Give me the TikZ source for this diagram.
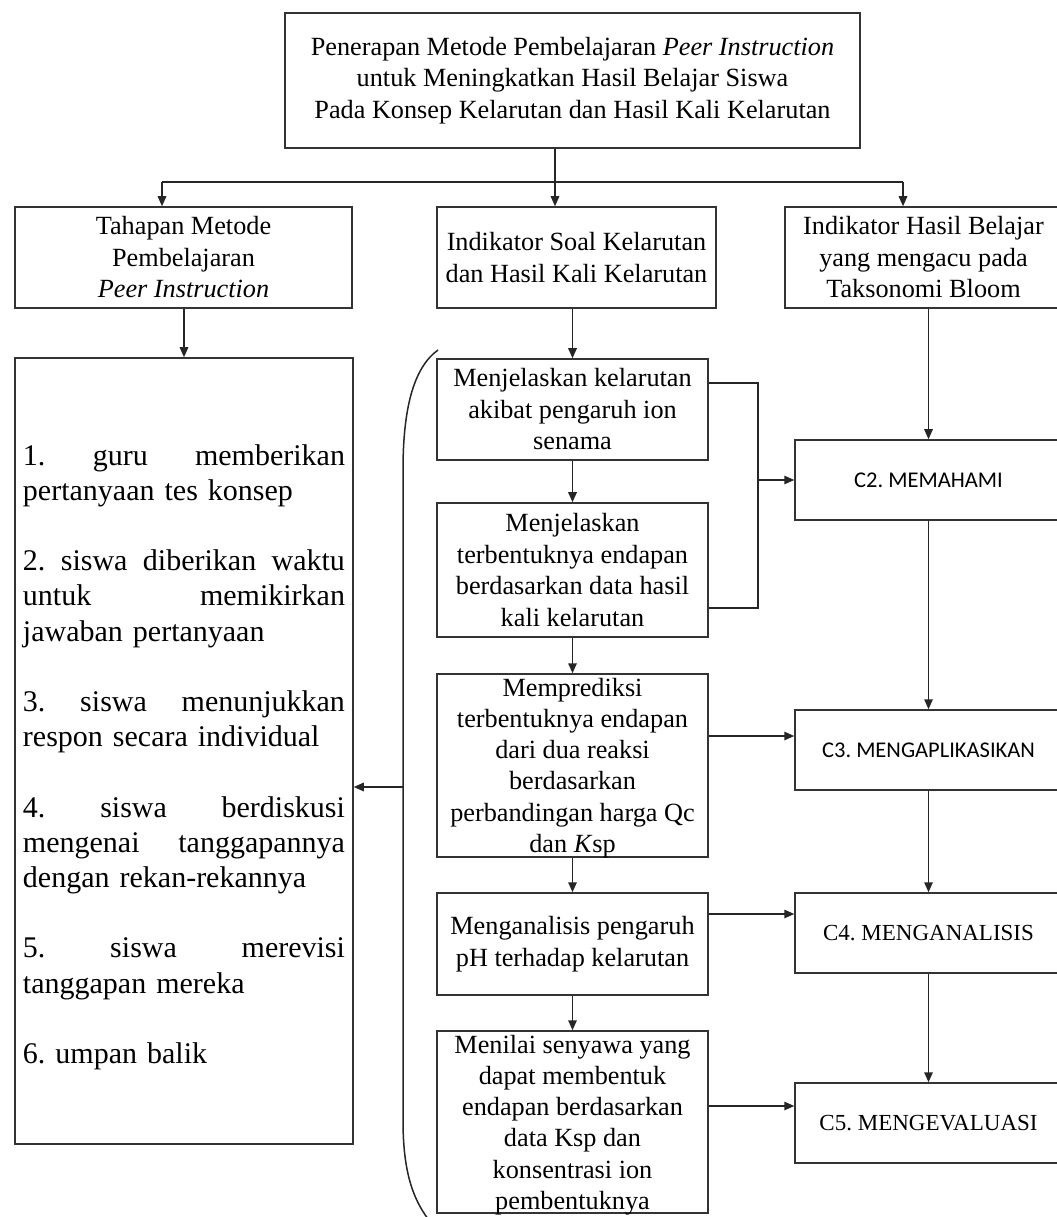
\documentclass[tikz,border=0pt]{standalone}
\usepackage{fontspec}
\setmainfont{Liberation Serif}
\newfontfamily\calibfont{Carlito}
\usetikzlibrary{arrows.meta}
\frenchspacing
\newcommand\jline[1]{\leavevmode\hbox to 128.8pt{#1}}
\begin{document}
\begin{tikzpicture}[x=0.4pt,y=-0.4pt,
  line width=0.6pt,
  ln/.style={draw=black!85, line width=0.6pt},
  box/.style={draw=black!80, line width=0.6pt, inner sep=0pt, align=center,
    font=\fontsize{10.5}{12.6}\selectfont},
  midbox/.style={box, minimum width=108.4pt},
  cbox/.style={draw=black!80, line width=0.6pt, inner sep=0pt, align=center,
    minimum width=106.8pt, minimum height=32pt},
  arr/.style={ln, -{Triangle[length=4pt,width=3.4pt]}}]
\useasboundingbox (0,0) rectangle (1057,1217);

% top
\node[box, minimum width=230pt, minimum height=54pt] (top) at (572.5,80.5)
  {Penerapan Metode Pembelajaran \textit{Peer Instruction}\\
   untuk Meningkatkan Hasil Belajar Siswa\\
   Pada Konsep Kelarutan dan Hasil Kali Kelarutan};

% second row
\node[box, minimum width=134.8pt, minimum height=40.4pt] (L2) at (183.5,257.5)
  {Tahapan Metode\\ Pembelajaran\\ \textit{Peer Instruction}};
\node[box, minimum width=111.6pt, minimum height=40.4pt] (M2) at (576.5,257.5)
  {Indikator Soal Kelarutan\\ dan Hasil Kali Kelarutan};
\node[box, minimum width=110.8pt, minimum height=40.4pt] (R2) at (923.5,257.5)
  {Indikator Hasil Belajar\\ yang mengacu pada\\ Taksonomi Bloom};

% bus
\coordinate (bl) at (162,182);
\coordinate (bm) at (555,182);
\coordinate (br) at (903,182);
\draw[ln] (top.south -| bm) -- (bm);
\draw[ln] (bl) -- (br);
\draw[arr] (bl) -- (bl |- L2.north);
\draw[arr] (bm) -- (bm |- M2.north);
\draw[arr] (br) -- (br |- R2.north);

% left big box
\node[box, minimum width=135.2pt, minimum height=314.4pt] (LB) at (184,751) {};
\node[inner sep=0pt, text width=128.8pt, align=left,
      font=\fontsize{12}{14.08}\selectfont] (LT) at (184,757)
  {\jline{1.\hfill guru\hfill memberikan}\\
   pertanyaan tes konsep\\
   \mbox{}\\
   \jline{2.\hfill siswa\hfill diberikan\hfill waktu}\\
   \jline{untuk\hfill memikirkan}\\
   jawaban pertanyaan\\
   \mbox{}\\
   \jline{3.\hfill siswa\hfill menunjukkan}\\
   respon secara individual\\
   \mbox{}\\
   \jline{4.\hfill siswa\hfill berdiskusi}\\
   \jline{mengenai\hfill tanggapannya}\\
   dengan rekan-rekannya\\
   \mbox{}\\
   \jline{5.\hfill siswa\hfill merevisi}\\
   tanggapan mereka\\
   \mbox{}\\
   6. umpan balik};

% middle column
\node[midbox, minimum height=40.4pt] (B1) at (572.5,409.5)
  {Menjelaskan kelarutan\\ akibat pengaruh ion\\ senama};
\node[midbox, minimum height=53.6pt] (B2) at (572.5,570)
  {Menjelaskan\\ terbentuknya endapan\\ berdasarkan data hasil\\ kali kelarutan};
\node[midbox, minimum height=73.2pt] (B3) at (572.5,765.5) {};
\node[inner sep=0pt, align=center, font=\fontsize{10.5}{12.5}\selectfont]
  (B3t) at (572.5,768)
  {Memprediksi\\ terbentuknya endapan\\ dari dua reaksi\\ berdasarkan\\ perbandingan harga Qc\\ dan \textit{K}sp};
\node[midbox, minimum height=40.8pt] (B4) at (572.5,944)
  {Menganalisis pengaruh\\ pH terhadap kelarutan};
\node[midbox, minimum height=72.8pt] (B5) at (572.5,1122) {};
\node[inner sep=0pt, align=center, font=\fontsize{10.5}{12.5}\selectfont]
  (B5t) at (572.5,1125)
  {Menilai senyawa yang\\ dapat membentuk\\ endapan berdasarkan\\ data Ksp dan\\ konsentrasi ion\\ pembentuknya};

% right column
\node[cbox, font=\calibfont\fontsize{9}{11}\selectfont] (C2) at (928.5,480) {C2. MEMAHAMI};
\node[cbox, font=\calibfont\fontsize{9}{11}\selectfont] (C3) at (928.5,750) {C3. MENGAPLIKASIKAN};
\node[cbox, font=\fontsize{9.2}{11}\selectfont] (C4) at (928.5,933) {C4. MENGANALISIS};
\node[cbox, font=\fontsize{9.2}{11}\selectfont] (C5) at (928.5,1123) {C5. MENGEVALUASI};

% vertical connectors
\draw[arr] (L2.south -| LB.north) -- (LB.north);
\draw[arr] (M2.south -| B1.north) -- (B1.north);
\draw[arr] (B1.south) -- (B2.north);
\draw[arr] (B2.south) -- (B3.north);
\draw[arr] (B3.south) -- (B4.north);
\draw[arr] (B4.south) -- (B5.north);
\draw[arr] (R2.south -| C2.north) -- (C2.north);
\draw[arr] (C2.south) -- (C3.north);
\draw[arr] (C3.south) -- (C4.north);
\draw[arr] (C4.south) -- (C5.north);

% bracket joining B1,B2 to C2
\coordinate (k1) at (758,383);
\coordinate (k2) at (758,608);
\coordinate (km) at (758,480);
\draw[ln] (B1.east |- k1) -- (k1) -- (k2) -- (B2.east |- k2);
\draw[arr] (km) -- (C2.west);

% horizontal arrows
\coordinate (h3) at (0,736);
\coordinate (h4) at (0,914);
\coordinate (h5) at (0,1106);
\draw[arr] (B3.east |- h3) -- (C3.west |- h3);
\draw[arr] (B4.east |- h4) -- (C4.west |- h4);
\draw[arr] (B5.east |- h5) -- (C5.west |- h5);

% brace
\draw[ln] (438,350) .. controls (413,368) and (403,410) .. (403,470)
      -- (403,1120) .. controls (403,1170) and (412,1200) .. (432,1224);
\coordinate (bp) at (403,787);
\draw[arr] (bp) -- (bp -| LB.east);
\end{tikzpicture}
\end{document}
